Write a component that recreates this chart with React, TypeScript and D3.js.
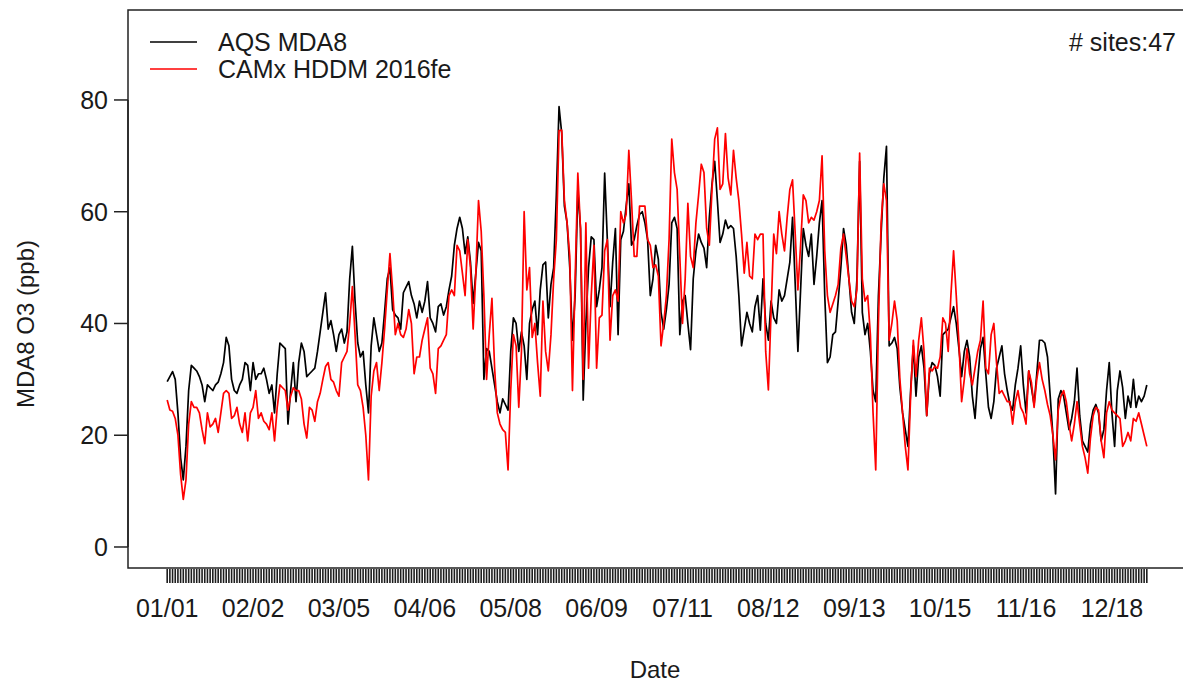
import React from "react";
import * as d3 from "d3";

const W = 1183;
const H = 685;

// Daily MDA8 O3 (ppb), 2016-01-01 .. 2016-12-31 (366 days)
const aqsMda8: number[] = [
  29.6, 30.5, 31.4, 30, 24, 16, 12, 18, 28, 32.5,
  32, 31.5, 30.5, 29, 26, 29, 28.5, 28, 29, 29.5,
  31, 33, 37.5, 36, 30, 28, 27.5, 29, 30, 33,
  32.5, 28, 33, 30, 31, 31, 32, 30, 27.5, 29,
  24, 31, 36.5, 36, 35.5, 22, 28, 33, 26, 33,
  36.5, 35, 30.5, 31, 31.5, 32, 35, 38.5, 42, 45.5,
  39, 40.5, 38, 35, 38, 39, 36.5, 38.5, 48, 53.8,
  44, 36.5, 34, 35, 29, 24, 36, 41, 38, 35,
  36.5, 42, 48, 50, 42.5, 41.5, 41, 39, 45.5, 46.5,
  47.5, 45, 43.5, 41, 44, 42, 44, 47.5, 41, 40,
  38.5, 43, 43.5, 41.5, 43, 46, 48.5, 54, 57, 59,
  57, 52.5, 55.5, 51, 43.6, 49, 54.5, 53, 30, 35.5,
  35, 32, 29, 26, 24, 26.5, 25.5, 24.5, 35, 41,
  40, 35, 38.5, 36, 30, 40, 42.5, 44, 38, 46,
  50.5, 51, 41, 47, 50, 63, 78.8, 74, 61, 58,
  50, 37, 45, 64, 57, 26.3, 40, 50, 55.5, 55,
  43, 46, 50, 66.9, 55, 43, 51, 57, 38, 55,
  56.5, 61, 65, 54, 55, 57.5, 59.5, 60, 58, 55,
  45, 48, 54, 51.5, 42, 39, 42.5, 47, 58, 59,
  57, 38, 44, 45, 40, 35.3, 48, 53, 56, 54.5,
  53.5, 50, 59, 65, 69, 62, 54.5, 56, 58.5, 57,
  57.5, 57, 52, 45, 36, 39, 42, 40, 38.5, 43,
  45, 38.8, 48, 40, 37, 44, 41, 40, 46, 44,
  45, 48, 51, 59, 47, 35, 46, 57, 54, 52,
  56, 47, 52, 58, 62, 45, 33, 34, 38, 38.5,
  44, 50, 57, 54, 48, 42, 40, 48, 69, 42,
  38, 40, 35, 28, 26, 45, 56, 66, 71.7, 36,
  36.5, 37.5, 35.5, 28.5, 24, 21, 18, 28, 36, 27,
  34, 36, 32, 23.5, 31, 33, 32.5, 30.5, 27, 38,
  38.5, 39, 41, 43, 40, 35.5, 30.5, 35, 37, 34,
  27, 23, 30, 35.5, 37.5, 31, 25, 23, 26, 32,
  34, 36, 31, 28, 25.5, 24.5, 29, 32, 36, 29,
  24, 31.5, 28.5, 25.5, 31, 37, 37, 36.5, 34, 27,
  20, 9.5, 26.5, 28, 27, 24, 21, 23, 26, 32,
  23.5, 19, 18, 17, 22, 24.5, 25.5, 24, 19, 21,
  28, 33, 24, 18, 28, 31.5, 28.5, 23, 27, 25,
  30, 25, 27, 26, 27, 29,
];

const camxHddm: number[] = [
  26.3, 24.5, 24.3, 23, 20, 13, 8.5, 12, 22, 26,
  25, 25, 24, 21, 18.5, 24, 21.5, 22, 23, 20.5,
  24, 27.5, 28, 27.5, 23, 23.5, 25, 22, 20.5, 24,
  19, 24, 25, 28, 23, 24, 22.5, 22, 21, 24,
  19, 25, 29, 28.5, 28, 24.5, 27, 28.5, 28, 28,
  26.5, 22, 19.5, 25, 24.5, 22.5, 26, 27.5, 30, 32.3,
  33, 30, 29.5, 28, 27, 33, 34, 35, 40, 46.6,
  38, 29, 28, 25, 20, 12, 27, 31.5, 33, 28,
  33, 39, 46, 52.5, 46, 38, 40, 38, 37.5, 39,
  42.5, 40, 31, 34, 34, 37, 39, 41, 32, 31,
  27.5, 35.5, 36, 37, 38, 45, 46, 45, 54, 53,
  49, 45, 55, 50, 39, 49, 62, 56.5, 45, 30,
  38, 44.5, 32, 24, 22, 21, 20.5, 13.8, 28, 38,
  36, 25, 35, 60, 46, 50, 37.5, 40, 33, 27,
  44, 35, 31.5, 38, 48, 55, 74.5, 74.6, 62, 58,
  52, 28, 48, 66.9, 57, 30, 58, 32, 45, 54,
  32, 41, 41.5, 53, 55, 37, 45, 46, 44, 60,
  58, 59.5, 71, 62, 52, 52, 61, 61, 61, 55,
  54, 50, 50.5, 48.5, 36, 40, 45, 55, 73, 67,
  64, 52, 40, 48, 61.5, 52, 50, 58, 63, 68.5,
  67, 57, 54, 64, 73, 75, 64, 65, 74, 66,
  63, 71, 66, 62, 56, 49, 54.5, 48.5, 48, 56,
  55, 56, 56, 35, 28.1, 42, 56, 52.5, 60, 56,
  53, 59, 64, 65.7, 56, 46, 54, 63, 62, 58,
  59, 58.5, 60, 62, 70, 53, 45, 42, 43.5, 45,
  47, 53.5, 56, 52, 48, 44, 43, 46, 70.5, 48,
  44, 45, 38, 24, 13.8, 40, 58, 65, 62, 37,
  40, 44, 40.5, 30, 24, 18, 13.8, 27, 37, 30.5,
  37, 41, 35, 23.5, 32, 31.5, 32.3, 32, 34, 41,
  40, 35, 45, 53, 45, 36.5, 26, 30, 35.5, 31,
  29, 32, 35, 37, 44, 32, 31, 38, 40, 33,
  27.5, 28, 27, 26, 26, 22, 26, 28, 25, 24,
  22, 31.5, 29.5, 25, 30, 33, 30, 28, 25.5, 23.5,
  20, 15.6, 24.5, 27, 28, 26, 22, 19, 22, 26,
  22, 18, 16, 13.2, 19.5, 23.5, 25, 24.5, 19, 16,
  24, 26, 24.5, 24, 23.5, 23, 18, 19, 20.5, 19,
  23, 22.5, 24, 22, 20, 18,
];

const dateTickLabels: string[] = [
  "01/01", "02/02", "03/05", "04/06", "05/08", "06/09",
  "07/11", "08/12", "09/13", "10/15", "11/16", "12/18",
];
const labelStep = 32;
const yTickValues: number[] = [0, 20, 40, 60, 80];
const seriesNames: string[] = ["AQS MDA8", "CAMx HDDM 2016fe"];
const seriesColors: string[] = ["#000000", "#ff0000"];
const siteLabel = "# sites:47";

const FONT = "'Liberation Sans', Arial, Helvetica, sans-serif";
const TXT = "#1a1a1a";

export default function App() {
  const n = aqsMda8.length;
  const pad = (n - 1) * 0.04;
  const left = 128;
  const right = 1186;
  const top = 10;
  const bottom = 568;

  const x = d3.scaleLinear().domain([-pad, n - 1 + pad]).range([left, right]);
  const y = d3.scaleLinear().domain([-3.76, 96.1]).range([bottom, top]);

  const line = d3
    .line<number>()
    .x((_, i) => x(i))
    .y((d) => y(d));

  const series = [aqsMda8, camxHddm];
  const dayIdx = d3.range(n);

  return (
    <svg
      width={W}
      height={H}
      style={{ position: "absolute", left: 0, top: 0, display: "block", background: "#fff" }}
      fontFamily={FONT}
    >
      <rect x={0} y={0} width={W} height={H} fill="#fff" />

      {/* series */}
      {series.map((s, k) => (
        <path
          key={k}
          d={line(s) || ""}
          fill="none"
          stroke={seriesColors[k]}
          strokeWidth={1.7}
          strokeLinejoin="round"
        />
      ))}

      {/* box */}
      <rect
        x={left}
        y={top}
        width={right - left}
        height={bottom - top}
        fill="none"
        stroke="#222"
        strokeWidth={1.5}
      />

      {/* y axis */}
      <line x1={left} x2={left} y1={y(0)} y2={y(80)} stroke="#222" strokeWidth={1.5} />
      {yTickValues.map((v) => (
        <g key={v}>
          <line x1={left - 14} x2={left} y1={y(v)} y2={y(v)} stroke="#222" strokeWidth={1.5} />
          <text
            x={left - 20}
            y={y(v)}
            dy="0.36em"
            textAnchor="end"
            fontSize={25}
            fill={TXT}
          >
            {v}
          </text>
        </g>
      ))}

      {/* x axis: a tick per day */}
      {dayIdx.map((i) => (
        <line
          key={i}
          x1={x(i)}
          x2={x(i)}
          y1={bottom + 1}
          y2={bottom + 15}
          stroke="#1e1e1e"
          strokeWidth={1.6}
        />
      ))}
      {dateTickLabels.map((lab, k) => (
        <text
          key={lab}
          x={x(k * labelStep)}
          y={617}
          textAnchor="middle"
          fontSize={25}
          fill={TXT}
        >
          {lab}
        </text>
      ))}

      {/* axis titles */}
      <text x={655} y={678} textAnchor="middle" fontSize={24} fill={TXT}>
        Date
      </text>
      <text
        transform={`translate(34, ${(top + bottom) / 2 + 35}) rotate(-90)`}
        textAnchor="middle"
        fontSize={24}
        fill={TXT}
      >
        MDA8 O3 (ppb)
      </text>

      {/* legend */}
      {seriesNames.map((nm, k) => (
        <g key={nm}>
          <line
            x1={150}
            x2={197}
            y1={42 + k * 27}
            y2={42 + k * 27}
            stroke={seriesColors[k]}
            strokeWidth={1.7}
          />
          <text x={218} y={51 + k * 27} fontSize={25} fill={TXT}>
            {nm}
          </text>
        </g>
      ))}
      <text x={1176} y={51} textAnchor="end" fontSize={25} fill={TXT}>
        {siteLabel}
      </text>
    </svg>
  );
}
